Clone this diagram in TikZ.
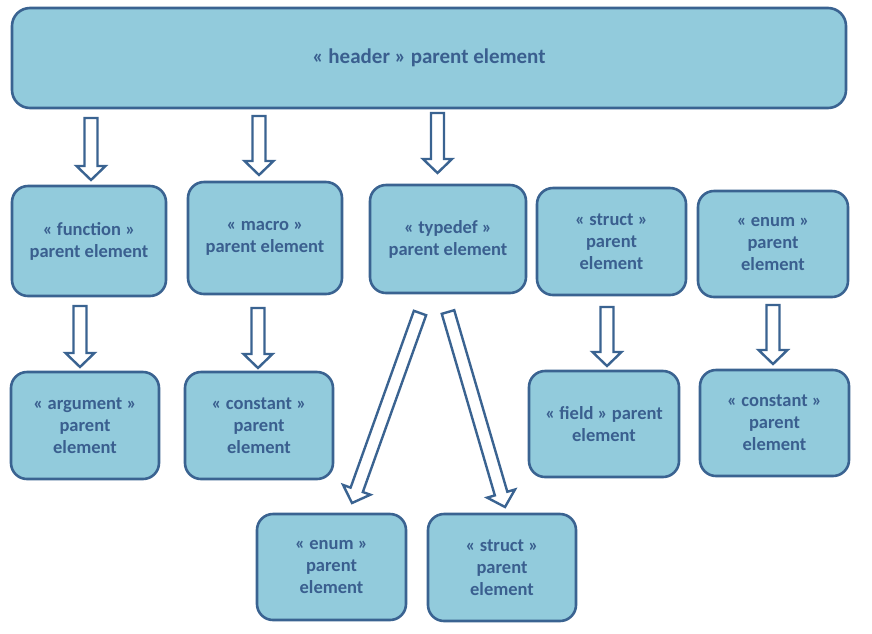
\documentclass[tikz,border=0pt]{standalone}
\usepackage{fontspec}
\setmainfont{Carlito}
\usetikzlibrary{calc}
\definecolor{boxfill}{HTML}{92CBDC}
\definecolor{boxline}{HTML}{3A6391}
\definecolor{boxtext}{HTML}{3A5F8F}
\tikzset{
  box/.style={draw=boxline, fill=boxfill, line width=2.6pt, rounded corners=16pt,
    text=boxtext, align=center, font=\fontsize{18.5}{22}\selectfont\bfseries, inner sep=0pt},
  blockarr/.style={draw=boxline, fill=white, line width=2.4pt, line join=miter}
}
\newcommand\blockarrow[2]{%
  \coordinate (hb) at ($(#2)!14pt!(#1)$);
  \draw[blockarr] ($(#1)!6.5pt!90:(#2)$) -- ($(hb)!6.5pt!90:(#2)$) -- ($(hb)!14.5pt!90:(#2)$)
    -- (#2) -- ($(hb)!14.5pt!-90:(#2)$) -- ($(hb)!6.5pt!-90:(#2)$) -- ($(#1)!6.5pt!-90:(#2)$) -- cycle;}
\begin{document}
\begin{tikzpicture}[x=1pt,y=-1pt]
\useasboundingbox (0,0) rectangle (872,633);
\node[box, rounded corners=18pt, minimum width=834pt, minimum height=100pt, font=\fontsize{21}{25}\selectfont\bfseries] (header) at (429,58) {« header » parent element};
\node[box, minimum width=154pt, minimum height=110pt] (function) at (89,241) {« function »\\parent element};
\node[box, minimum width=154pt, minimum height=112pt] (macro) at (265,238) {« macro »\\parent element};
\node[box, minimum width=156pt, minimum height=108pt] (typedef) at (448,239) {« typedef »\\parent element};
\node[box, minimum width=149pt, minimum height=107pt] (struct) at (611.5,241.5) {« struct »\\parent\\element};
\node[box, minimum width=150pt, minimum height=106pt] (enum) at (773,244) {« enum »\\parent\\element};
\node[box, minimum width=148pt, minimum height=107pt] (argument) at (85,425.5) {« argument »\\parent\\element};
\node[box, minimum width=148pt, minimum height=107pt] (constant) at (259,425.5) {« constant »\\parent\\element};
\node[box, minimum width=150pt, minimum height=106pt] (field) at (604,424) {« field » parent\\element};
\node[box, minimum width=149pt, minimum height=106pt] (constant2) at (774.5,423) {« constant »\\parent\\element};
\node[box, minimum width=149pt, minimum height=106pt] (enum2) at (331.5,567) {« enum »\\parent\\element};
\node[box, minimum width=148pt, minimum height=107pt] (struct2) at (502,567.5) {« struct »\\parent\\element};
% arrow end points
\coordinate (a1s) at (91,118);  \coordinate (a1e) at (91,180);
\coordinate (a2s) at (259,116); \coordinate (a2e) at (259,175);
\coordinate (a3s) at (437.5,113); \coordinate (a3e) at (437.5,173);
\coordinate (a4s) at (80,306);  \coordinate (a4e) at (80,367);
\coordinate (a5s) at (258,308); \coordinate (a5e) at (258,368);
\coordinate (a6s) at (607,307); \coordinate (a6e) at (607,366);
\coordinate (a7s) at (773,305); \coordinate (a7e) at (773,364);
\coordinate (a8s) at (420,313); \coordinate (a8e) at (352,503);
\coordinate (a9s) at (448,312); \coordinate (a9e) at (505,507);
\blockarrow{a1s}{a1e}
\blockarrow{a2s}{a2e}
\blockarrow{a3s}{a3e}
\blockarrow{a4s}{a4e}
\blockarrow{a5s}{a5e}
\blockarrow{a6s}{a6e}
\blockarrow{a7s}{a7e}
\blockarrow{a8s}{a8e}
\blockarrow{a9s}{a9e}
\end{tikzpicture}
\end{document}
